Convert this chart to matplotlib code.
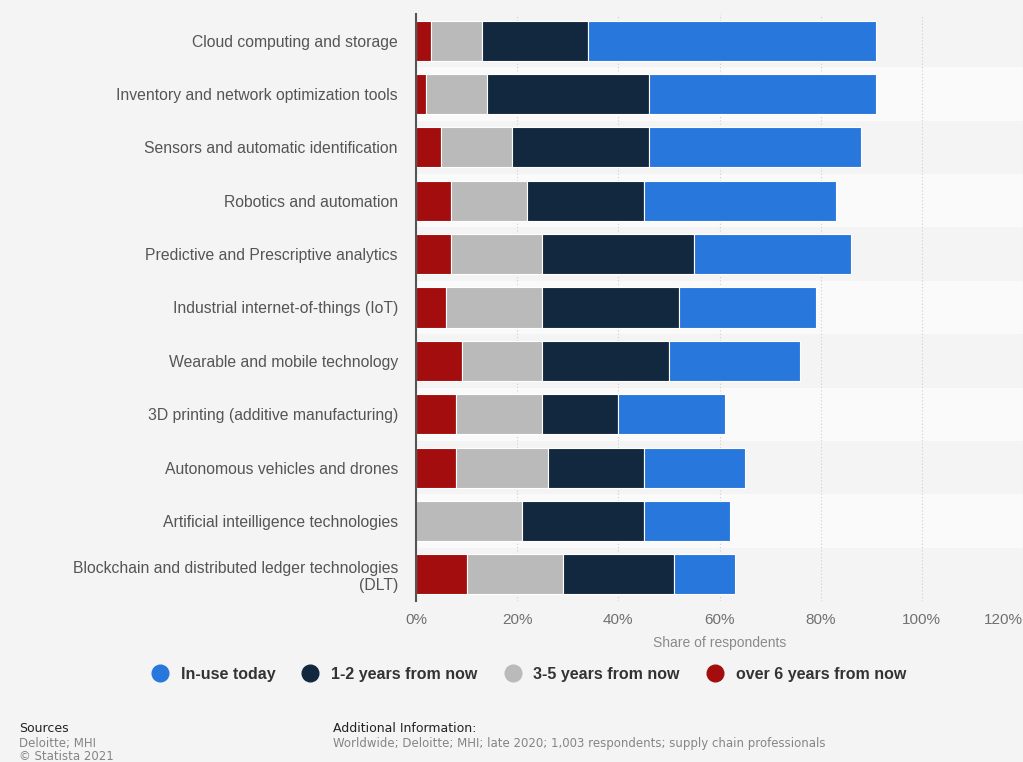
import numpy as np
import matplotlib.pyplot as plt
from matplotlib.lines import Line2D

plt.rcParams['font.family'] = ['Liberation Sans', 'DejaVu Sans']

categories = [
    'Cloud computing and storage',
    'Inventory and network optimization tools',
    'Sensors and automatic identification',
    'Robotics and automation',
    'Predictive and Prescriptive analytics',
    'Industrial internet-of-things (IoT)',
    'Wearable and mobile technology',
    '3D printing (additive manufacturing)',
    'Autonomous vehicles and drones',
    'Artificial inteilligence technologies',
    'Blockchain and distributed ledger technologies\n(DLT)',
]

# share of respondents in %, stacked left to right: over 6, 3-5, 1-2, in use
over6 = [3, 2, 5, 7, 7, 6, 9, 8, 8, 0, 10]
years3_5 = [10, 12, 14, 15, 18, 19, 16, 17, 18, 21, 19]
years1_2 = [21, 32, 27, 23, 30, 27, 25, 15, 19, 24, 22]
in_use = [57, 45, 42, 38, 31, 27, 26, 21, 20, 17, 12]

series = [
    ('over 6 years from now', over6, '#a30d0d'),
    ('3-5 years from now', years3_5, '#bababa'),
    ('1-2 years from now', years1_2, '#12283e'),
    ('In-use today', in_use, '#2877dd'),
]
legend_order = ['In-use today', '1-2 years from now', '3-5 years from now', 'over 6 years from now']
xticks = [0, 20, 40, 60, 80, 100, 120]

fig = plt.figure(figsize=(10.23, 7.62), dpi=100, facecolor='#f4f4f4')
ax = fig.add_axes([416 / 1023, 1 - 601 / 762, 607 / 1023, 587 / 762])
ax.set_facecolor('#f4f4f4')

y = np.arange(len(categories))

# alternating row bands
for i in y:
    ax.axhspan(i - 0.5, i + 0.5, color='#f4f4f4' if i % 2 == 0 else '#fafafa', zorder=0, lw=0)

left = np.zeros(len(categories))
colors = {}
for name, vals, col in series:
    vals = np.array(vals, dtype=float)
    ax.barh(y, vals, left=left, height=0.75, color=col, edgecolor='white',
            linewidth=0.8, zorder=3)
    left += vals
    colors[name] = col

ax.set_xlim(0, 120)
ax.set_ylim(len(categories) - 0.5, -0.5)
ax.set_xticks(xticks)
ax.set_xticklabels([f'{v}%' for v in xticks])
ax.get_xticklabels()[-1].set_horizontalalignment('right')
ax.set_yticks(y)
ax.set_yticklabels(categories)
ax.tick_params(axis='both', length=0)
ax.tick_params(axis='x', pad=9, colors='#707070', labelsize=11)
ax.tick_params(axis='y', pad=13, colors='#555555', labelsize=11.3)
for lbl in ax.get_yticklabels():
    lbl.set_multialignment('right')

ax.xaxis.grid(True, linestyle=(0, (1, 2)), color='#cfcfcf', linewidth=0.8, zorder=1)
ax.set_axisbelow(True)
for s in ['top', 'right', 'bottom']:
    ax.spines[s].set_visible(False)
ax.spines['left'].set_color('#555555')
ax.spines['left'].set_linewidth(1.5)
ax.spines['left'].set_zorder(5)

ax.set_xlabel('Share of respondents', color='#8a8a8a', fontsize=10, labelpad=6)

handles = [Line2D([], [], marker='o', linestyle='none', markersize=12,
                  markerfacecolor=colors[n], markeredgecolor=colors[n]) for n in legend_order]
leg = fig.legend(handles, legend_order, loc='center', ncol=4, frameon=False,
                 bbox_to_anchor=(525 / 1023, 1 - 674 / 762), handletextpad=0.3,
                 columnspacing=1.2, prop={'weight': 'bold', 'size': 11.5})
for t in leg.get_texts():
    t.set_color('#333333')

foot = ['DejaVu Sans']
fig.text(19 / 1023, 1 - 729 / 762, 'Sources', fontsize=9, color='#222222', va='center', family=foot)
fig.text(19 / 1023, 1 - 744 / 762, 'Deloitte; MHI', fontsize=8.5, color='#858585', va='center', family=foot)
fig.text(19 / 1023, 1 - 756 / 762, '© Statista 2021', fontsize=8.5, color='#858585', va='center', family=foot)
fig.text(333 / 1023, 1 - 729 / 762, 'Additional Information:', fontsize=9, color='#222222', va='center', family=foot)
fig.text(333 / 1023, 1 - 744 / 762,
         'Worldwide; Deloitte; MHI; late 2020; 1,003 respondents; supply chain professionals',
         fontsize=8.5, color='#858585', va='center', family=foot)

fig.savefig('out.png', dpi=100, facecolor=fig.get_facecolor())
